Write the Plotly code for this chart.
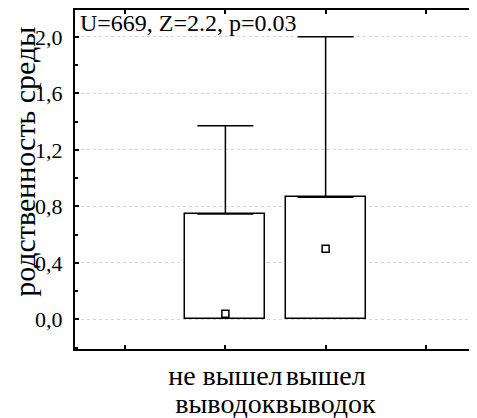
import plotly.graph_objects as go

labels_row1 = ["не вышел", "вышел"]
labels_row2 = ["выводок", "выводок"]
cat_pos = [2, 3]
box_bottom = [0.0, 0.0]
box_top = [0.745, 0.865]
whisker_top = [1.37, 2.0]
median = [0.04, 0.50]
y_ticks = [0.0, 0.4, 0.8, 1.2, 1.6, 2.0]
stat_text = "U=669, Z=2.2, p=0.03"
y_title = "родственность среды"

FONT = "Liberation Serif"

fig = go.Figure()
fig.add_trace(go.Bar(
    x=cat_pos, y=[t - b for t, b in zip(box_top, box_bottom)], base=box_bottom,
    width=0.8,
    marker=dict(color="white", line=dict(color="black", width=1.5)),
    error_y=dict(type="data", symmetric=False,
                 array=[w - t for w, t in zip(whisker_top, box_top)],
                 arrayminus=[0, 0], width=28, thickness=1.5, color="black"),
    showlegend=False, hoverinfo="skip",
))
fig.add_trace(go.Scatter(
    x=cat_pos, y=median, mode="markers",
    marker=dict(symbol="square-open", size=7, color="black", line=dict(width=1.5)),
    showlegend=False,
))
# invisible trace so the second (label-only) x axis is drawn
fig.add_trace(go.Scatter(x=cat_pos, y=median, xaxis="x2", mode="markers",
                         marker=dict(opacity=0), showlegend=False, hoverinfo="skip"))

fig.add_annotation(
    x=0, y=1, xref="paper", yref="paper", xanchor="left", yanchor="top",
    text=stat_text, showarrow=False, xshift=3, yshift=2,
    font=dict(family=FONT, size=24, color="black"),
)
fig.add_annotation(
    x=0, y=0.552, xref="paper", yref="paper", xanchor="center", yanchor="middle",
    text=y_title, textangle=-90, showarrow=False, xshift=-50, borderpad=0,
    font=dict(family=FONT, size=30, color="black"),
)

fig.update_layout(
    width=469, height=410,
    margin=dict(l=67, r=1, t=2, b=69),
    paper_bgcolor="white", plot_bgcolor="white",
    separators=", ",
    font=dict(family=FONT, color="black"),
    bargap=0,
)
fig.update_layout(
    xaxis=dict(
        range=[0.5, 4.5],
        tickvals=[1, 2, 3, 4],
        ticktext=["", labels_row1[0], labels_row1[1], ""],
        tickangle=0, automargin=False,
        ticks="inside", ticklen=4, tickwidth=1.5, tickcolor="black",
        showline=True, linecolor="black", linewidth=2, mirror="ticks",
        showgrid=False, zeroline=False,
        tickfont=dict(family=FONT, size=28, color="black"),
    ),
    xaxis2=dict(
        overlaying="x", anchor="y", side="bottom",
        range=[0.5, 4.5],
        tickvals=cat_pos, ticktext=labels_row2,
        tickangle=0, automargin=False,
        ticks="", showline=False, showgrid=False, zeroline=False,
        ticklabelstandoff=35,
        tickfont=dict(family=FONT, size=28, color="black"),
    ),
)
fig.update_yaxes(
    range=[-0.21, 2.19],
    tickvals=y_ticks, tickformat=".1f",
    ticks="inside", ticklen=4, tickwidth=1.5, tickcolor="black",
    minor=dict(dtick=0.2, tick0=0, ticks="inside", ticklen=3, tickcolor="black", showgrid=False),
    showline=True, linecolor="black", linewidth=2, mirror="ticks",
    showgrid=True, gridcolor="#d4d4d4", griddash="dot", gridwidth=1,
    zeroline=False, automargin=False,
    ticklabelstandoff=6,
    tickfont=dict(family=FONT, size=22, color="black"),
)

fig.write_html("out.html")
